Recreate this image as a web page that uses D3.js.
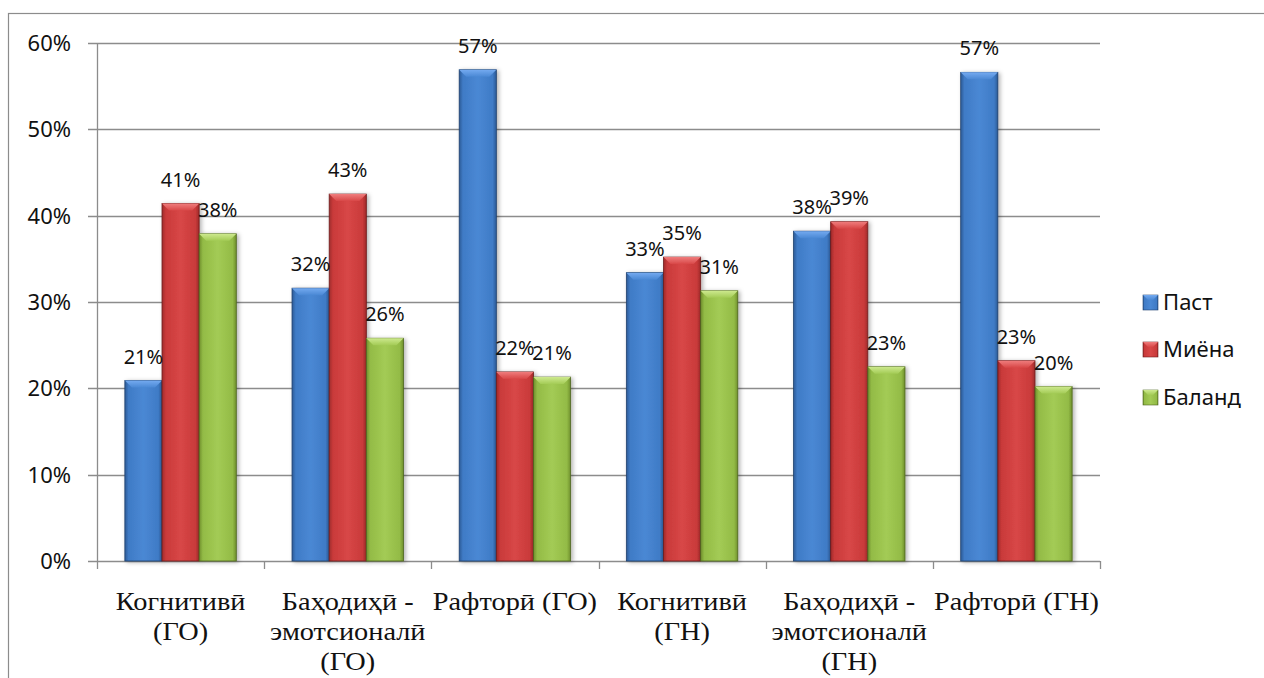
<!DOCTYPE html>
<html><head><meta charset="utf-8">
<script src="https://cdn.jsdelivr.net/npm/d3@7"></script>
<style>
html,body{margin:0;padding:0;background:#fff;}
svg{display:block;}
</style></head>
<body>
<svg id="chart" width="1264" height="678"></svg>
<script>
// ---- data ----
const categories = ["Когнитивӣ\n(ГО)", "Баҳодиҳӣ -\nэмотсионалӣ\n(ГО)", "Рафторӣ (ГО)", "Когнитивӣ\n(ГН)", "Баҳодиҳӣ -\nэмотсионалӣ\n(ГН)", "Рафторӣ (ГН)"];
const seriesNames = ["Паст", "Миёна", "Баланд"];
const pastValues   = [0.209, 0.316, 0.569, 0.334, 0.382, 0.566];
const miyonaValues = [0.414, 0.425, 0.219, 0.352, 0.393, 0.232];
const balandValues = [0.379, 0.258, 0.213, 0.313, 0.225, 0.202];
const yTicks = [0, 0.1, 0.2, 0.3, 0.4, 0.5, 0.6];

(function () {
const seriesValues = [pastValues, miyonaValues, balandValues];
const palette = [
  {edge:"#2c5a96", mid:"#3f7bc6", light:"#4a88d4", top:"#74aaf0", stroke:"#1f416e"},
  {edge:"#9e2a2a", mid:"#c93a3a", light:"#d84747", top:"#ef7c7c", stroke:"#6e1c1c"},
  {edge:"#6f8f2c", mid:"#93bb46", light:"#a3cb55", top:"#cde98e", stroke:"#4e6620"}
];

const svg = d3.select("#chart");
const W = 1264, H = 678;
const pL = 97, pR = 1100, pT = 43, pB = 561;

// outer border (left & top visible)
svg.append("rect").attr("x", 8.5).attr("y", 13.5).attr("width", W + 20).attr("height", H + 20)
  .attr("fill", "none").attr("stroke", "#8c8c8c").attr("stroke-width", 1.2);

const defs = svg.append("defs");
palette.forEach((p, i) => {
  const g = defs.append("linearGradient").attr("id", "grad" + i).attr("x1", "0").attr("x2", "1").attr("y1", "0").attr("y2", "0");
  [[0, p.edge], [0.1, p.mid], [0.5, p.light], [0.9, p.mid], [1, p.edge]].forEach(s =>
    g.append("stop").attr("offset", s[0]).attr("stop-color", s[1]));
  const t = defs.append("linearGradient").attr("id", "topg" + i).attr("x1", "0").attr("x2", "0").attr("y1", "0").attr("y2", "1");
  t.append("stop").attr("offset", 0).attr("stop-color", p.top);
  t.append("stop").attr("offset", 1).attr("stop-color", p.light);
});
const f = defs.append("filter").attr("id", "shadow").attr("x", "-20%").attr("y", "-5%").attr("width", "150%").attr("height", "115%");
f.append("feDropShadow").attr("dx", 2).attr("dy", 1).attr("stdDeviation", 2).attr("flood-color", "#000").attr("flood-opacity", 0.3);

// scales
const x0 = d3.scaleBand().domain(categories).range([pL, pR]).paddingInner(0).paddingOuter(0);
const x1 = d3.scaleBand().domain(seriesNames).range([0, x0.bandwidth()]).paddingInner(0).paddingOuter(0.75);
const y = d3.scaleLinear().domain([0, 0.6]).range([pB, pT]);
const fmt = d3.format(".0%");

// gridlines
svg.append("g").selectAll("line").data(yTicks).join("line")
  .attr("x1", pL - 9).attr("x2", pR)
  .attr("y1", d => Math.round(y(d)) + 0.5).attr("y2", d => Math.round(y(d)) + 0.5)
  .attr("stroke", "#8c8c8c").attr("stroke-width", 1.3);

// y axis line
svg.append("line").attr("x1", pL + 0.5).attr("x2", pL + 0.5).attr("y1", y(0.6)).attr("y2", pB)
  .attr("stroke", "#8c8c8c").attr("stroke-width", 1.3);

// y tick labels
svg.append("g").selectAll("text").data(yTicks).join("text")
  .attr("x", 71).attr("y", d => y(d)).attr("dy", "0.36em")
  .attr("text-anchor", "end")
  .attr("font-family", "'Noto Sans', 'Open Sans', sans-serif").attr("font-size", 22)
  .attr("fill", "#111").text(d => fmt(d));

// x axis category tick marks
const tickXs = categories.map(c => x0(c)).concat([pR]);
svg.append("g").selectAll("line").data(tickXs).join("line")
  .attr("x1", d => Math.round(d) + 0.5).attr("x2", d => Math.round(d) + 0.5)
  .attr("y1", pB).attr("y2", pB + 8)
  .attr("stroke", "#8c8c8c").attr("stroke-width", 1.3);

// bars
const bevel = 7;
const groups = svg.append("g").selectAll("g").data(categories).join("g")
  .attr("transform", c => `translate(${x0(c)},0)`);
groups.each(function(c, ci) {
  const g = d3.select(this);
  seriesNames.forEach((s, si) => {
    const v = seriesValues[si][ci];
    const bx = x1(s), bw = x1.bandwidth(), by = y(v), bh = y(0) - y(v);
    const bar = g.append("g").attr("filter", "url(#shadow)");
    bar.append("rect").attr("x", bx).attr("y", by).attr("width", bw).attr("height", bh)
      .attr("fill", `url(#grad${si})`).attr("stroke", palette[si].stroke).attr("stroke-width", 0.8);
    bar.append("path")
      .attr("d", `M${bx},${by}L${bx + bw},${by}L${bx + bw - bevel},${by + bevel}L${bx + bevel},${by + bevel}Z`)
      .attr("fill", `url(#topg${si})`).attr("stroke", "none");
  });
});
// data labels (drawn after all bars)
groups.each(function(c, ci) {
  const g = d3.select(this);
  seriesNames.forEach((s, si) => {
    const v = seriesValues[si][ci];
    g.append("text").attr("x", x1(s) + x1.bandwidth() / 2).attr("y", y(v) - 17)
      .attr("text-anchor", "middle")
      .attr("font-family", "'Noto Sans', 'Open Sans', sans-serif").attr("font-size", 20)
      .attr("fill", "#111").text(fmt(v));
  });
});

// x labels (serif, slightly widened as in the reference)
const xl = svg.append("g").selectAll("text").data(categories).join("text")
  .attr("transform", c => `translate(${x0(c) + x0.bandwidth() / 2},0) scale(1.09,1)`)
  .attr("text-anchor", "middle")
  .attr("font-family", "'Liberation Serif', 'Times New Roman', serif").attr("font-size", 26)
  .attr("fill", "#111");
xl.each(function(c) {
  const t = d3.select(this);
  c.split("\n").forEach((line, i) => {
    t.append("tspan").attr("x", 0).attr("y", 610 + i * 30).text(line);
  });
});

// legend
const legY = [302, 349, 397];
const lg = svg.append("g").selectAll("g").data(seriesNames).join("g")
  .attr("transform", (d, i) => `translate(1143,${legY[i]})`);
lg.append("rect").attr("x", 0).attr("y", -7).attr("width", 15).attr("height", 15)
  .attr("fill", (d, i) => `url(#grad${i})`).attr("stroke", (d, i) => palette[i].stroke).attr("stroke-width", 0.6);
lg.append("path").attr("d", "M0,-7L15,-7L10,-2L5,-2Z").attr("fill", (d, i) => `url(#topg${i})`);
lg.append("text").attr("x", 20).attr("y", 0).attr("dy", "0.36em")
  .attr("font-family", "'Noto Sans', 'Open Sans', sans-serif").attr("font-size", 22)
  .attr("fill", "#111").text(d => d);
})();
</script>
</body></html>
